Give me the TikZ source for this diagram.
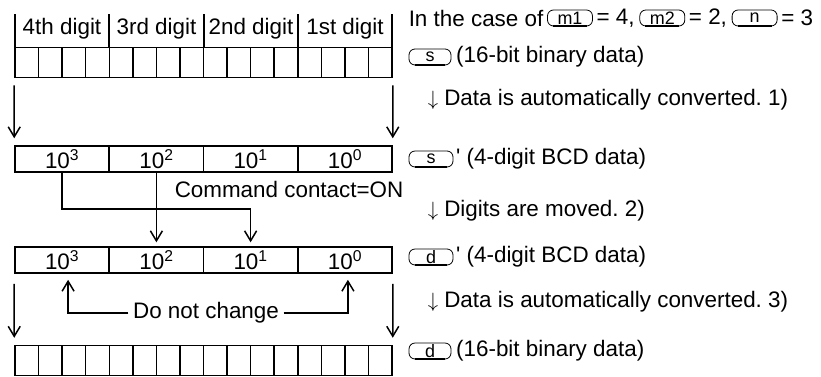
\documentclass[tikz,border=0pt]{standalone}
\usepackage{fontspec}
\setmainfont{Liberation Sans}
\usetikzlibrary{arrows.meta,positioning}
\frenchspacing

\begin{document}
\begin{tikzpicture}[x=1bp, y=-1bp, line width=1.5bp, >={Straight Barb[length=10bp,width=12bp]},
    font=\fontsize{22.5}{26}\selectfont,
    cell/.style={draw, minimum width=94.25bp, minimum height=26bp, inner sep=0pt},
    bits/.style={draw, minimum width=377bp, minimum height=30bp, inner sep=0pt},
    opd/.style={draw, line width=0.8bp, rounded corners=6bp, minimum height=16bp, inner sep=0pt, font=\fontsize{18}{18}\selectfont},
    txt/.style={inner sep=0pt, anchor=west}]
  \useasboundingbox (0,0) rectangle (821,376);
  % s as 16-bit binary data, split into four digits
  \foreach \x in {15,109,204,298,392} \draw (\x,14) -- (\x,47);
  \foreach \n/\x/\lbl in {3/62/4th digit, 2/156.5/3rd digit, 1/251/2nd digit, 0/345/1st digit}
    \node[inner sep=0pt] (dig\n) at (\x,29) {\lbl};
  \node[bits] (sbin) at (203.5,62.5) {};
  \foreach \i in {1,...,15} \draw ({15+\i*377/16},47.5) -- ++(0,30);
  % s' and d' as 4-digit BCD data
  \foreach \n/\x in {3/62.1,2/156.4,1/250.6,0/344.9} {
    \node[cell] (s\n) at (\x,159) {10\textsuperscript{\n}};
    \node[cell] (d\n) at (\x,260) {10\textsuperscript{\n}};
  }
  % d as 16-bit binary data
  \node[bits] (dbin) at (203.5,360.5) {};
  \foreach \i in {1,...,15} \draw ({15+\i*377/16},345.5) -- ++(0,30);
  % conversions
  \draw[->, shorten <=7bp, shorten >=7bp] (sbin.south west) -- (s3.north west);
  \draw[->, shorten <=7bp, shorten >=7bp] (sbin.south east) -- (s0.north east);
  \draw[->, shorten <=10bp, shorten >=7bp] (d3.south west) -- (dbin.north west);
  \draw[->, shorten <=10bp, shorten >=7bp] (d0.south east) -- (dbin.north east);
  % moved digits
  \node[txt] (contact) at (174,189) {Command contact=ON};
  \draw[->, shorten >=4bp] (s3.south) -- ++(0,36) -| (d2.north);
  \draw[->, shorten >=4bp] (s2.south) -- ++(0,36) -| (d1.north);
  % kept digits
  \node[inner sep=4bp] (keep) at (206,313) {Do not change};
  \draw[->, shorten >=6bp] (keep.west) -| ([xshift=6bp]d3.south);
  \draw[->, shorten >=6bp] (keep.east) -| ([xshift=3bp]d0.south);
  % right column
  \node[txt] (case) at (408,18) {In the case of};
  \node[opd, minimum width=45bp, right=3bp of case] (m1) {m1};
  \node[txt, right=3bp of m1] (eq4) {= 4,};
  \node[opd, minimum width=45bp, right=4bp of eq4] (m2) {m2};
  \node[txt, right=3bp of m2] (eq2) {= 2,};
  \node[opd, minimum width=45bp, right=4bp of eq2] (nn) {n};
  \node[txt, right=3bp of nn] (eq3) {= 3};
  \node[opd, minimum width=42bp] (sa) at (430,57) {s};
  \node[txt, right=4bp of sa] (sinfo) {(16-bit binary data)};
  \node[txt] (conv1) at (427,100) {$\downarrow$ Data is automatically converted. 1)};
  \node[opd, minimum width=44bp] (sb) at (431,159) {s};
  \node[txt, right=2bp of sb] (sbinfo) {\textquotesingle\ (4-digit BCD data)};
  \node[txt] (move) at (427,211) {$\downarrow$ Digits are moved. 2)};
  \node[opd, minimum width=44bp] (da) at (431,257) {d};
  \node[txt, right=2bp of da] (dainfo) {\textquotesingle\ (4-digit BCD data)};
  \node[txt] (conv3) at (427,302) {$\downarrow$ Data is automatically converted. 3)};
  \node[opd, minimum width=42bp] (db) at (430,351) {d};
  \node[txt, right=4bp of db] (dinfo) {(16-bit binary data)};
  \foreach \o in {m1,m2,nn,sa,sb,da,db}
    \draw[line width=2bp] ([xshift=6bp]\o.south west) -- ([xshift=-6bp]\o.south east);
\end{tikzpicture}
\end{document}
